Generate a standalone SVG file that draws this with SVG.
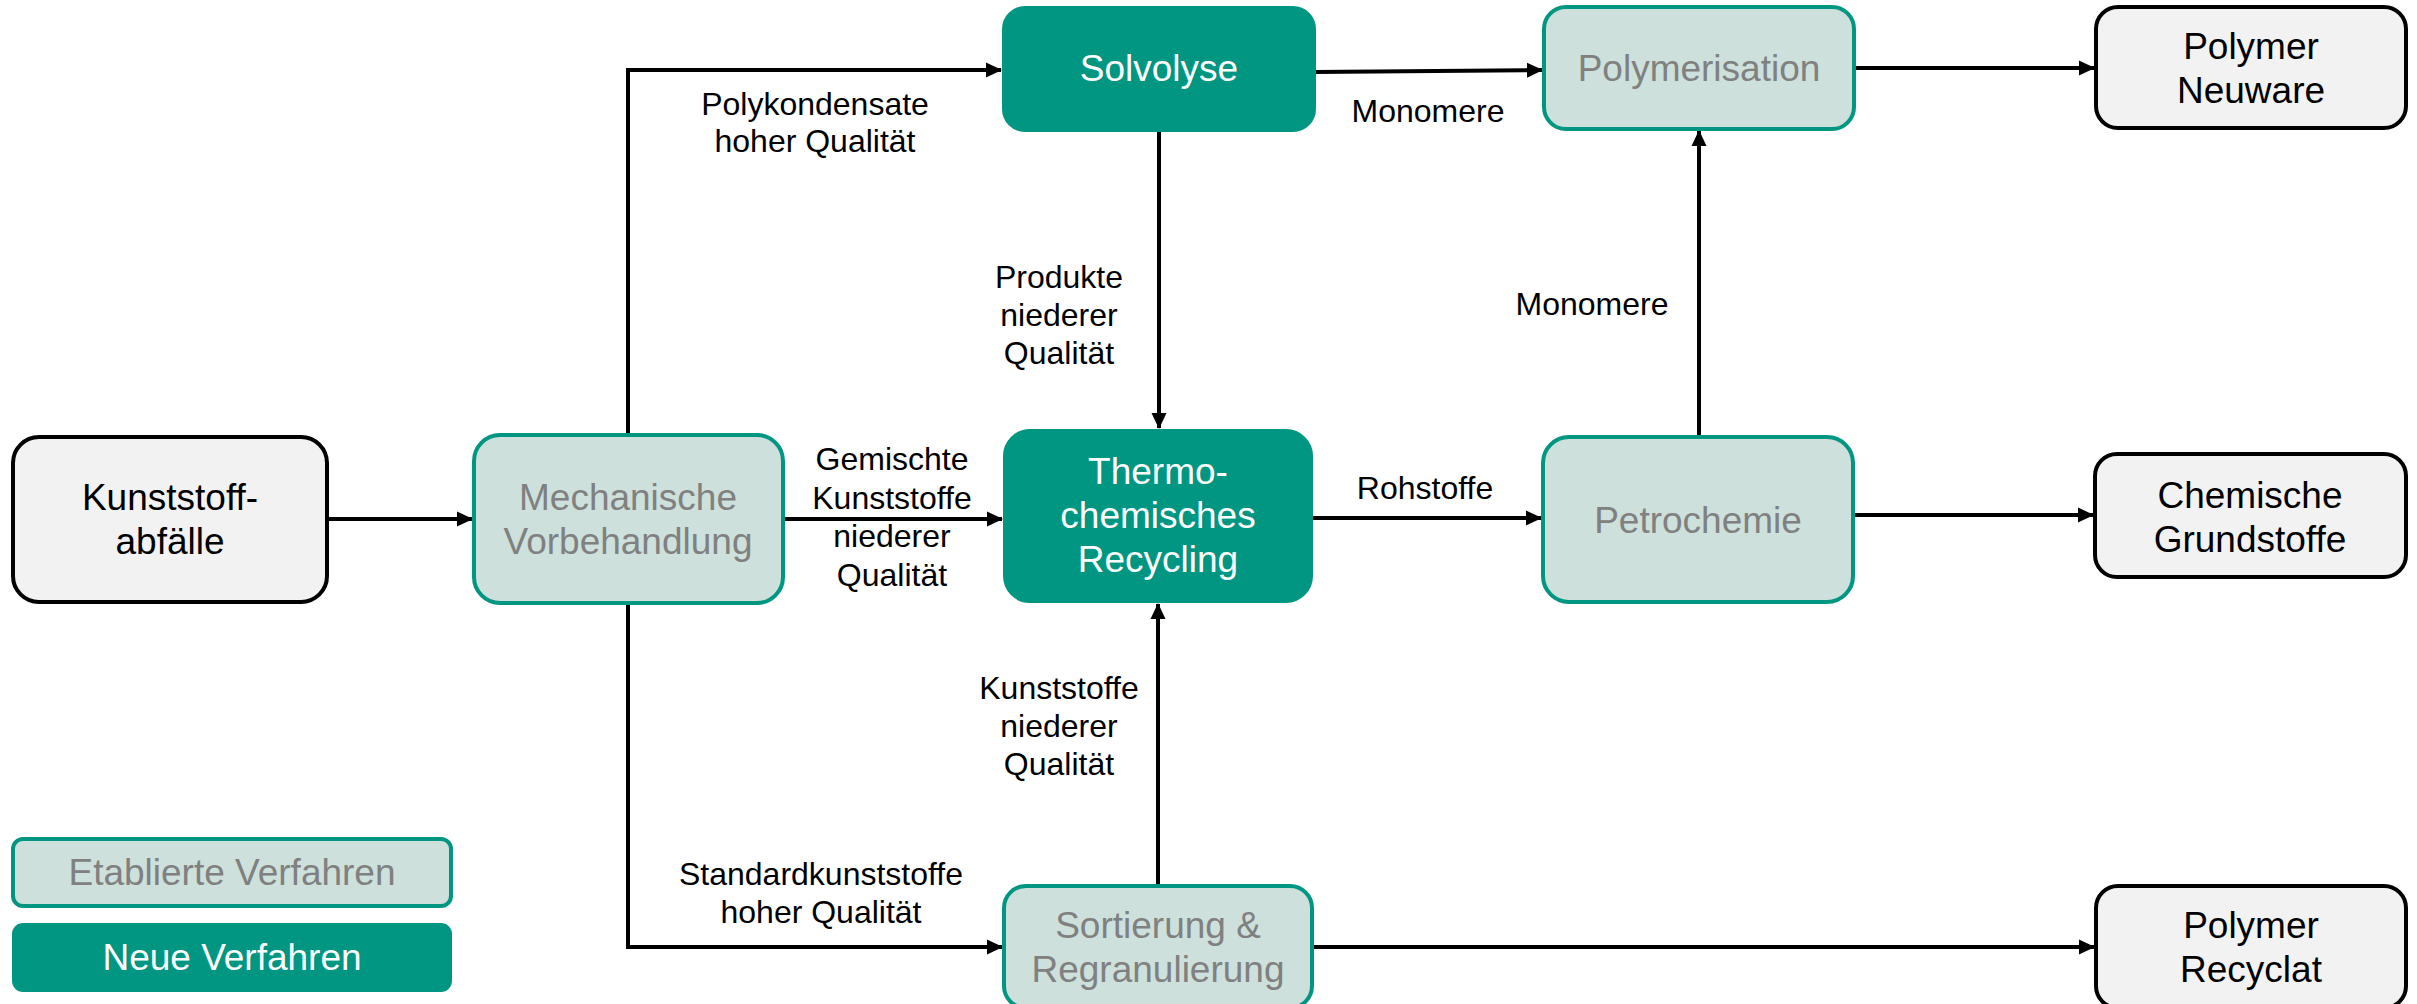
<svg xmlns="http://www.w3.org/2000/svg" width="2417" height="1004" viewBox="0 0 2417 1004">
<style>
text{font-family:"Liberation Sans",Arial,sans-serif;text-anchor:middle}
.nl{font-size:37px}
.el{font-size:32px;fill:#000}
.out rect{fill:#f2f2f2;stroke:#000;stroke-width:4}
.out text{fill:#000}
.est rect{fill:#cde0dc;stroke:#009682;stroke-width:4}
.est text{fill:#808080}
.new rect{fill:#009682;stroke:#009682;stroke-width:2}
.new text{fill:#fff}
.c{fill:none;stroke:#000;stroke-width:4;marker-end:url(#ah)}
</style>
<defs>
<marker id="ah" markerUnits="userSpaceOnUse" markerWidth="16" markerHeight="16" viewBox="0 0 16 16" refX="15" refY="8" orient="auto">
<path d="M0,0.5 L16,8 L0,15.5 Z" fill="#000"/>
</marker>
</defs>
<rect width="2417" height="1004" fill="#fff"/>
<g id="connectors">
<path class="c" d="M327,519 H472"/>
<path class="c" d="M628,435 V70 H1001"/>
<path class="c" d="M783,519 H1002"/>
<path class="c" d="M628,603 V947 H1002"/>
<path class="c" d="M1159,131 V428"/>
<path class="c" d="M1315,72 L1542,70"/>
<path class="c" d="M1854,68 H2094"/>
<path class="c" d="M1312,518 H1541"/>
<path class="c" d="M1699,437 V131"/>
<path class="c" d="M1853,515 H2093"/>
<path class="c" d="M1158,886 V604"/>
<path class="c" d="M1312,947 H2094"/>
</g>
<g id="labels" class="el">
<text class="el" x="815" y="115">Polykondensate</text>
<text class="el" x="815" y="152">hoher Qualität</text>
<text class="el" x="1428" y="122">Monomere</text>
<text class="el" x="1059" y="288">Produkte</text>
<text class="el" x="1059" y="326">niederer</text>
<text class="el" x="1059" y="364">Qualität</text>
<text class="el" x="1592" y="315">Monomere</text>
<text class="el" x="892" y="470">Gemischte</text>
<text class="el" x="892" y="509">Kunststoffe</text>
<text class="el" x="892" y="547">niederer</text>
<text class="el" x="892" y="586">Qualität</text>
<text class="el" x="1425" y="499">Rohstoffe</text>
<text class="el" x="1059" y="699">Kunststoffe</text>
<text class="el" x="1059" y="737">niederer</text>
<text class="el" x="1059" y="775">Qualität</text>
<text class="el" x="821" y="885">Standardkunststoffe</text>
<text class="el" x="821" y="923">hoher Qualität</text>
</g>
<g id="kunststoffabfaelle" class="out">
<rect x="13" y="437" width="314" height="165" rx="26"/>
<text class="nl" x="170" y="510">Kunststoff-</text>
<text class="nl" x="170" y="554">abfälle</text>
</g>
<g id="mechanische" class="est">
<rect x="474" y="435" width="309" height="168" rx="26"/>
<text class="nl" x="628" y="510">Mechanische</text>
<text class="nl" x="628" y="554">Vorbehandlung</text>
</g>
<g id="solvolyse" class="new">
<rect x="1003" y="7" width="312" height="124" rx="22"/>
<text class="nl" x="1159" y="81">Solvolyse</text>
</g>
<g id="polymerisation" class="est">
<rect x="1544" y="7" width="310" height="122" rx="22"/>
<text class="nl" x="1699" y="81">Polymerisation</text>
</g>
<g id="polymer-neuware" class="out">
<rect x="2096" y="7" width="310" height="121" rx="22"/>
<text class="nl" x="2251" y="59">Polymer</text>
<text class="nl" x="2251" y="103">Neuware</text>
</g>
<g id="thermochemisches" class="new">
<rect x="1004" y="430" width="308" height="172" rx="26"/>
<text class="nl" x="1158" y="484">Thermo-</text>
<text class="nl" x="1158" y="528">chemisches</text>
<text class="nl" x="1158" y="572">Recycling</text>
</g>
<g id="petrochemie" class="est">
<rect x="1543" y="437" width="310" height="165" rx="26"/>
<text class="nl" x="1698" y="533">Petrochemie</text>
</g>
<g id="chemische-grundstoffe" class="out">
<rect x="2095" y="454" width="311" height="123" rx="22"/>
<text class="nl" x="2250" y="508">Chemische</text>
<text class="nl" x="2250" y="552">Grundstoffe</text>
</g>
<g id="sortierung" class="est">
<rect x="1004" y="886" width="308" height="122" rx="22"/>
<text class="nl" x="1158" y="938">Sortierung &amp;</text>
<text class="nl" x="1158" y="982">Regranulierung</text>
</g>
<g id="polymer-recyclat" class="out">
<rect x="2096" y="886" width="310" height="122" rx="22"/>
<text class="nl" x="2251" y="938">Polymer</text>
<text class="nl" x="2251" y="982">Recyclat</text>
</g>
<g id="legend-etabliert" class="est">
<rect x="13" y="839" width="438" height="67" rx="10"/>
<text class="nl" x="232" y="885">Etablierte Verfahren</text>
</g>
<g id="legend-neu" class="new">
<rect x="13" y="924" width="438" height="67" rx="10"/>
<text class="nl" x="232" y="970">Neue Verfahren</text>
</g>
</svg>
